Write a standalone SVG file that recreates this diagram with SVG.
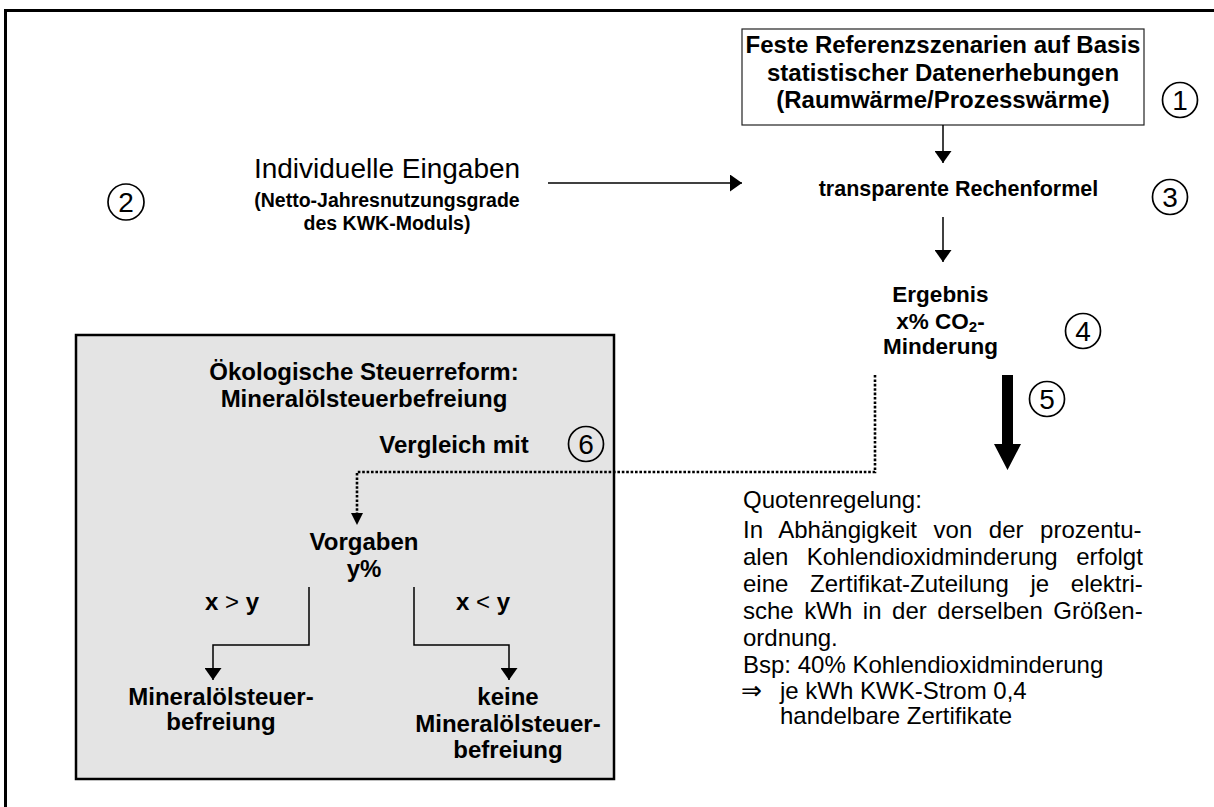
<svg xmlns="http://www.w3.org/2000/svg" width="1214" height="807" viewBox="0 0 1214 807">
  <style>
    text { font-family: "Liberation Sans", Arial, sans-serif; fill: #000; }
    .b { font-weight: bold; text-anchor: middle; }
    .r { font-weight: normal; }
    .op { font-weight: normal; }
    .num { font-size: 28px; text-anchor: middle; }
    .ring { fill: none; stroke: #000; stroke-width: 1.7; }
    .ln { fill: none; stroke: #000; stroke-width: 1.5; }
    .dot { fill: none; stroke: #000; stroke-width: 2.6; stroke-dasharray: 2.6 1.8; }
  </style>
  <defs>
    <marker id="head" viewBox="0 0 12 17" refX="12" refY="8.5" markerWidth="12" markerHeight="17" markerUnits="userSpaceOnUse" orient="auto">
      <path d="M0,0 L12,8.5 L0,17 z" fill="#000"/>
    </marker>
  </defs>

  <rect x="0" y="0" width="1214" height="807" fill="#fff"/>

  <!-- page frame (only top and left edges fall inside the sheet) -->
  <path d="M5.5,807 V10.5 H1214" fill="none" stroke="#000" stroke-width="3"/>

  <!-- 1: reference scenarios -->
  <g id="referenz">
    <rect x="742" y="29" width="402" height="96" fill="#fff" stroke="#222" stroke-width="1.2"/>
    <text class="b" x="943" y="53" font-size="24">Feste Referenzszenarien auf Basis</text>
    <text class="b" x="943" y="81" font-size="24">statistischer Datenerhebungen</text>
    <text class="b" x="943" y="108" font-size="24">(Raumwärme/Prozesswärme)</text>
  </g>
  <g id="n1"><circle class="ring" cx="1180" cy="100" r="17.5"/><text class="num" x="1180" y="110">1</text></g>

  <!-- 2: individual input -->
  <g id="eingaben">
    <text class="r" x="387" y="178" font-size="28" text-anchor="middle">Individuelle Eingaben</text>
    <text class="b" x="387" y="207" font-size="19.5">(Netto-Jahresnutzungsgrade</text>
    <text class="b" x="387" y="230" font-size="19.5">des KWK-Moduls)</text>
  </g>
  <g id="n2"><circle class="ring" cx="126" cy="202" r="18"/><text class="num" x="126" y="212">2</text></g>

  <!-- 3: formula -->
  <g id="formel">
    <text class="b" x="958.5" y="196" font-size="21.5">transparente Rechenformel</text>
  </g>
  <g id="n3"><circle class="ring" cx="1170" cy="197" r="17.5"/><text class="num" x="1170" y="207">3</text></g>

  <!-- 4: result -->
  <g id="ergebnis">
    <text class="b" x="940.5" y="302" font-size="22.5">Ergebnis</text>
    <text class="b" x="940.5" y="329" font-size="22.5">x% CO<tspan font-size="15" dy="3">2</tspan><tspan dy="-3">-</tspan></text>
    <text class="b" x="940.5" y="354" font-size="22.5">Minderung</text>
  </g>
  <g id="n4"><circle class="ring" cx="1083" cy="331" r="17.5"/><text class="num" x="1083" y="341">4</text></g>
  <g id="n5"><circle class="ring" cx="1047" cy="399" r="17.5"/><text class="num" x="1047" y="409">5</text></g>

  <!-- 5: quota rule -->
  <g id="quotenregelung" font-size="24">
    <text class="r" x="743" y="508">Quotenregelung:</text>
    <text class="r" x="743" y="538" word-spacing="9.9">In Abhängigkeit von der prozentu-</text>
    <text class="r" x="743" y="565" word-spacing="11.8">alen Kohlendioxidminderung erfolgt</text>
    <text class="r" x="743" y="592" word-spacing="15">eine Zertifikat-Zuteilung je elektri-</text>
    <text class="r" x="743" y="619" word-spacing="3.9">sche kWh in der derselben Größen-</text>
    <text class="r" x="743" y="646">ordnung.</text>
    <text class="r" x="743" y="673">Bsp: 40% Kohlendioxidminderung</text>
    <text x="741" y="699" font-family="DejaVu Sans, sans-serif" font-size="25">⇒</text>
    <text class="r" x="780" y="699">je kWh KWK-Strom 0,4</text>
    <text class="r" x="780" y="724">handelbare Zertifikate</text>
  </g>

  <!-- 6: ecological tax reform -->
  <g id="steuerreform">
    <rect x="76" y="335" width="538" height="444" fill="#e4e4e4" stroke="#000" stroke-width="2.5"/>
    <text class="b" x="364" y="380" font-size="24">Ökologische Steuerreform:</text>
    <text class="b" x="364" y="407" font-size="24">Mineralölsteuerbefreiung</text>
    <text class="b" x="454" y="453" font-size="24">Vergleich mit</text>
  </g>
  <g id="n6"><circle class="ring" cx="586" cy="444" r="17.5"/><text class="num" x="586" y="454">6</text></g>
  <g id="vorgaben">
    <text class="b" x="364" y="550" font-size="24">Vorgaben</text>
    <text class="b" x="364" y="577" font-size="24">y%</text>
  </g>
  <g id="bedingung-gt"><text class="b" x="232" y="610" font-size="24">x <tspan class="op">&gt;</tspan> y</text></g>
  <g id="bedingung-lt"><text class="b" x="483" y="610" font-size="24">x <tspan class="op">&lt;</tspan> y</text></g>
  <g id="befreiung">
    <text class="b" x="221" y="705" font-size="24">Mineralölsteuer-</text>
    <text class="b" x="221" y="730" font-size="24">befreiung</text>
  </g>
  <g id="keine-befreiung">
    <text class="b" x="508" y="705" font-size="24">keine</text>
    <text class="b" x="508" y="732" font-size="24">Mineralölsteuer-</text>
    <text class="b" x="508" y="758" font-size="24">befreiung</text>
  </g>

  <!-- connectors -->
  <g id="connectors">
    <path class="ln" d="M943,125 V163" marker-end="url(#head)"/>
    <path class="ln" d="M548,183 H742" marker-end="url(#head)"/>
    <path class="ln" d="M943,217 V262" marker-end="url(#head)"/>
    <polygon points="1002,375 1013,375 1013,444 1021,444 1007.5,470 994,444 1002,444" fill="#000"/>
    <path class="dot" d="M875,375 V472 H357 V513"/>
    <path d="M351,513 L363,513 L357,525 z" fill="#000"/>
    <path class="ln" d="M309,587 V645 H213 V680" marker-end="url(#head)"/>
    <path class="ln" d="M414,587 V645 H509 V680" marker-end="url(#head)"/>
  </g>
</svg>
